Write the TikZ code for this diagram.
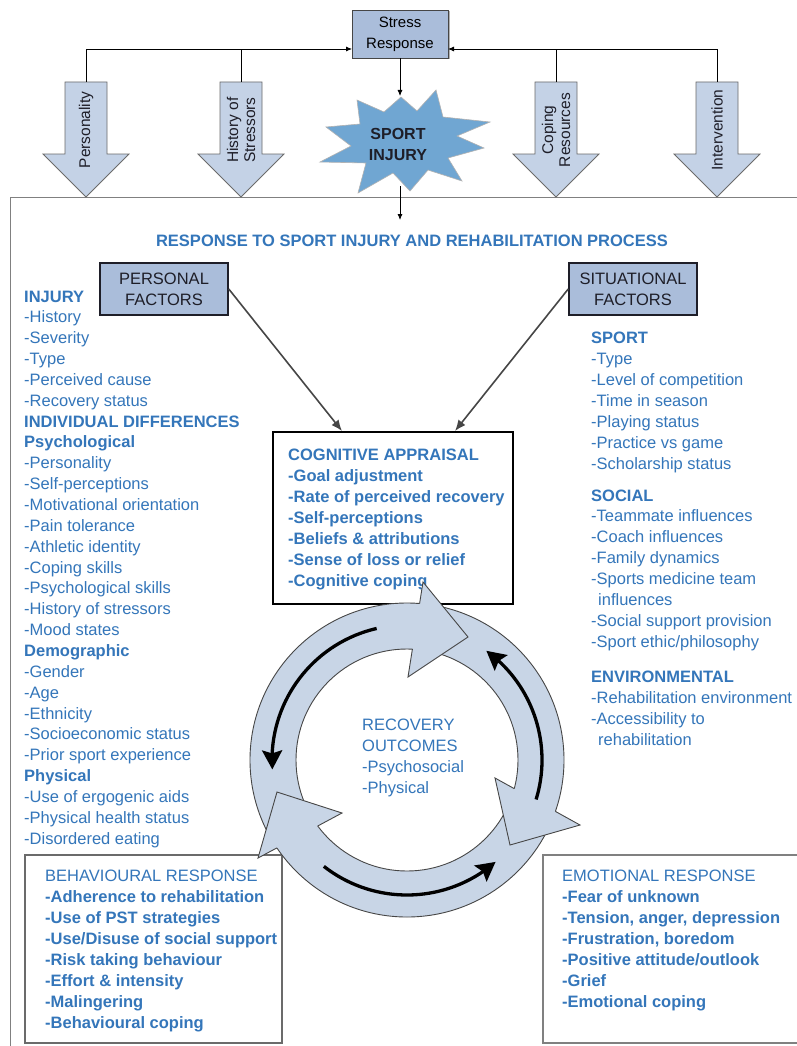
\documentclass[tikz,border=0pt]{standalone}
\usepackage{fontspec}
\setmainfont{Liberation Sans}
\usetikzlibrary{arrows.meta,calc,shadows,bending}
\definecolor{tblue}{RGB}{52,118,186}
\definecolor{ringfill}{RGB}{200,213,230}
\definecolor{arrfill}{RGB}{196,210,230}
\definecolor{boxfill}{RGB}{170,189,218}
\definecolor{starfill}{RGB}{112,166,210}
\definecolor{edge}{RGB}{70,70,70}
\definecolor{dark}{RGB}{30,30,40}
\newcommand\mycol[6]{\foreach \t [count=\i from 0] in {#6} {\node[#1] (#2\i) at (#3,{#4+#5*\i}) {\t};}}
\newcommand\bigarr[3]{%
  \draw[bigarrow] (#1-21,82) -- (#1+21,82) -- (#1+21,154) -- (#1+43,154) -- (#1,197) -- (#1-43,154) -- (#1-21,154) -- cycle;
  \coordinate (#2Top) at (#1,82);
  \node[rlabel] (#2Lab) at (#1,130) {#3};}
\begin{document}
\begin{tikzpicture}[x=1pt,y=-1pt,
  lst/.style={anchor=base west,inner sep=0pt,text=tblue,font=\fontsize{16.5}{20}\selectfont},
  lstb/.style={lst,font=\fontsize{16.5}{20}\selectfont\bfseries},
  conn/.style={draw=black,line width=0.8pt},
  tipS/.style={-{Latex[length=6pt,width=5pt]}},
  bigarrow/.style={fill=arrfill,draw=edge!80,line width=0.8pt,line join=miter},
  rlabel/.style={rotate=90,align=center,inner sep=0pt,text=dark,font=\fontsize{15.5}{17}\selectfont},
  fbox/.style={draw=dark,line width=1.5pt,fill=boxfill,minimum width=128pt,minimum height=52pt,align=center,inner sep=0pt,text=dark,font=\fontsize{16.5}{21}\selectfont},
  fconn/.style={draw=edge,line width=1.6pt,-{Latex[length=11pt,width=9pt]}},
  ringedge/.style={draw=edge,line width=0.9pt,line join=miter},
  blackarc/.style={line width=3.3pt,-{Stealth[length=19pt,width=20pt,inset=3pt]}}
]
\useasboundingbox (0,0) rectangle (797,1046);
\clip (0,0) rectangle (797,1046);
\fill[white] (0,0) rectangle (797,1046);

% main frame
\draw[draw=gray,line width=0.9pt] (10,1050) -- (10,197) -- (805,197);

% stress response
\node[draw=edge,fill=boxfill,minimum width=96pt,minimum height=48pt,inner sep=0pt,align=center,
  font=\fontsize{15}{21}\selectfont,drop shadow={shadow xshift=1.5pt,shadow yshift=-1.5pt,fill=black!60}] (stress) at (400,34) {Stress\\Response};
\coordinate (sL) at (352,49);
\coordinate (sR) at (448,49);

% big arrows
\bigarr{86}{pers}{Personality}
\bigarr{241}{hist}{History of\\Stressors}
\bigarr{556}{cop}{Coping\\Resources}
\bigarr{717}{int}{Intervention}

\draw[conn,tipS] (persTop) |- (sL);
\draw[conn] (histTop) -- (histTop |- sL);
\draw[conn,tipS] (intTop) |- (sR);
\draw[conn] (copTop) -- (copTop |- sR);

% starburst
\filldraw[fill=starfill,draw=gray!60,line width=0.6pt] (436,90) -- (443,117) -- (490,122) -- (457,136) -- (484,148) -- (448,158) -- (462,181) -- (428,170) -- (410,191) -- (393,173) -- (358,193) -- (366,163) -- (320,162) -- (351,146) -- (326,127) -- (360,124) -- (357,100) -- (384,112) -- (401,97) -- (417,111) -- cycle;
\node[font=\fontsize{16}{21}\selectfont\bfseries,text=dark,align=center,inner sep=0pt] (inj) at (398,144) {SPORT\\INJURY};
\coordinate (starTop) at (400,96);
\coordinate (starBot) at (400,186);
\coordinate (respTop) at (400,220);
\draw[conn,tipS] (stress.south) -- (starTop);
\draw[conn,tipS] (starBot) -- (respTop);

% title
\node[anchor=base,inner sep=0pt,text=tblue,font=\fontsize{16.5}{20}\selectfont\bfseries] (title) at (412,246) {RESPONSE TO SPORT INJURY AND REHABILITATION PROCESS};

% factor boxes
\node[fbox] (pf) at (164,289) {PERSONAL\\FACTORS};
\node[fbox] (sf) at (633,289) {SITUATIONAL\\FACTORS};

% left column
\mycol{lst}{lc}{24}{302}{20.85}{\textbf{INJURY},-History,-Severity,-Type,-Perceived cause,-Recovery status,\textbf{INDIVIDUAL DIFFERENCES},\textbf{Psychological},-Personality,-Self-perceptions,-Motivational orientation,-Pain tolerance,-Athletic identity,-Coping skills,-Psychological skills,-History of stressors,-Mood states,\textbf{Demographic},-Gender,-Age,-Ethnicity,-Socioeconomic status,-Prior sport experience,\textbf{Physical},-Use of ergogenic aids,-Physical health status,-Disordered eating}

% right column
\mycol{lst}{rs}{591}{343}{21}{\textbf{SPORT},-Type,-Level of competition,-Time in season,-Playing status,-Practice vs game,-Scholarship status}
\mycol{lst}{ro}{591}{501}{20.9}{\textbf{SOCIAL},-Teammate influences,-Coach influences,-Family dynamics,-Sports medicine team,\hspace*{7pt}influences,-Social support provision,-Sport ethic/philosophy}
\mycol{lst}{re}{591}{682}{21}{\textbf{ENVIRONMENTAL},-Rehabilitation environment,-Accessibility to,\hspace*{7pt}rehabilitation}

% cognitive appraisal
\node[draw=black,line width=1.2pt,minimum width=240pt,minimum height=172pt,inner sep=0pt] (ca) at (393,518) {};
\mycol{lstb}{cl}{288}{460}{21.1}{COGNITIVE APPRAISAL,-Goal adjustment,-Rate of perceived recovery,-Self-perceptions,-Beliefs \& attributions,-Sense of loss or relief,-Cognitive coping}
\coordinate (caL) at (342,431);
\coordinate (caR) at (455,431);
\draw[fconn] (pf.east) -- (caL);
\draw[fconn] (sf.west) -- (caR);

% behavioural and emotional boxes
\node[draw=edge!80,line width=1.2pt,fill=white,minimum width=257pt,minimum height=188pt,inner sep=0pt,
  drop shadow={shadow xshift=1pt,shadow yshift=-1pt,fill=black!40}] (beh) at (153.5,949) {};
\mycol{lst}{bh}{45}{881}{21.1}{BEHAVIOURAL RESPONSE}
\mycol{lstb}{bl}{45}{902.1}{21.1}{-Adherence to rehabilitation,-Use of PST strategies,-Use/Disuse of social support,-Risk taking behaviour,-Effort \& intensity,-Malingering,-Behavioural coping}
\node[draw=gray,line width=1.2pt,fill=white,minimum width=267pt,minimum height=188pt,inner sep=0pt] (emo) at (676.5,949) {};
\mycol{lst}{eh}{562}{881}{21.1}{EMOTIONAL RESPONSE}
\mycol{lstb}{el}{562}{902.1}{21.1}{-Fear of unknown,{-Tension, anger, depression},{-Frustration, boredom},-Positive attitude/outlook,-Grief,-Emotional coping}

% recovery ring
\coordinate (rc) at (407,760);
\fill[ringfill,even odd rule] (rc) circle[radius=157pt] (rc) circle[radius=111pt];
\draw[ringedge] (rc) circle[radius=157pt];
\draw[ringedge] (rc) circle[radius=111pt];
% heads
\fill[ringfill] (419.6,603.5) -- (423,582) -- (468,637) -- (408,677) -- (412.4,649.1) -- cycle;
\draw[ringedge] (419.6,603.5) -- (423,582) -- (468,637) -- (408,677) -- (412.4,649.1);
\fill[ringfill] (555.4,811.4) -- (580,825) -- (510,845) -- (495,778) -- (514.2,788.6) -- cycle;
\draw[ringedge] (555.4,811.4) -- (580,825) -- (510,845) -- (495,778) -- (514.2,788.6);
\fill[ringfill] (276.9,847.9) -- (258,858) -- (277,792) -- (342,813) -- (317.7,826) -- cycle;
\draw[ringedge] (276.9,847.9) -- (258,858) -- (277,792) -- (342,813) -- (317.7,826);
% inner black arrows
\begin{scope}[shift={(407,760)},x=1pt,y=1pt]
  \draw[blackarc] (103:135) arc[start angle=103,end angle=184,radius=135pt];
  \draw[blackarc] (-17:135) arc[start angle=-17,end angle=54,radius=135pt];
  \draw[blackarc] (232:135) arc[start angle=232,end angle=311,radius=135pt];
\end{scope}
\mycol{lst}{rr}{362}{730}{21.3}{RECOVERY,OUTCOMES,-Psychosocial,-Physical}
\end{tikzpicture}
\end{document}
